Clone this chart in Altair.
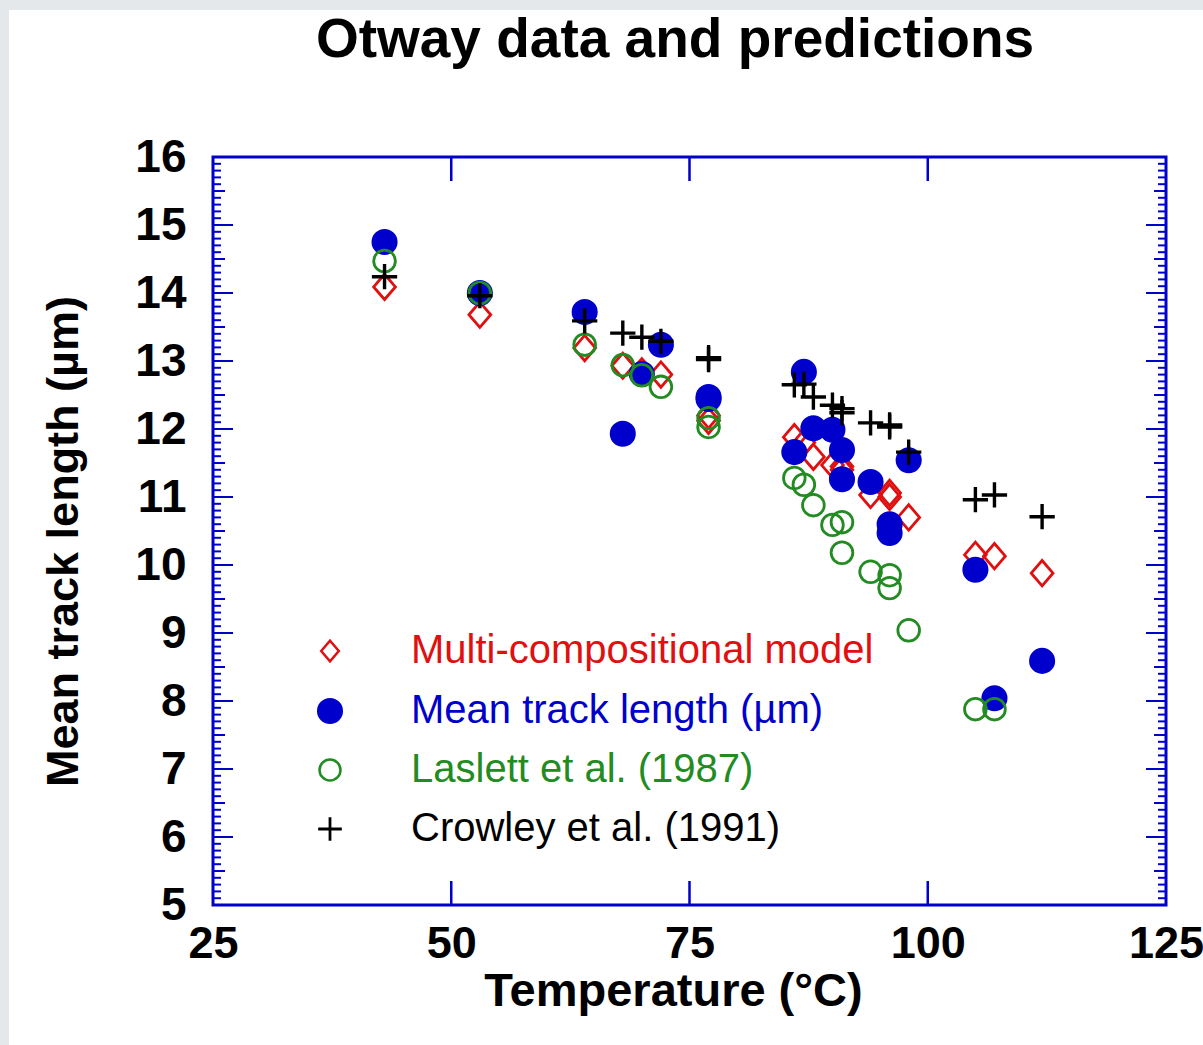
import altair as alt
import pandas as pd

# ---- data ----
temps = [43, 53, 64, 68, 70, 72, 77, 77, 86, 87, 88, 90, 91, 91, 94, 96, 96, 98, 105, 107, 112]
multi = [14.09, 13.68, 13.19, 12.93, 12.85, 12.80, 12.20, 12.12, 11.88, 11.80, 11.59, 11.47,
         11.45, 11.40, 11.03, 11.06, 11.00, 10.70, 10.15, 10.13, 9.88]
mean_len = [14.75, 14.00, 13.72, 11.93, 12.81, 13.24, 12.47, 12.44, 11.66, 12.84, 12.01, 11.99,
            11.69, 11.26, 11.22, 10.60, 10.47, 11.54, 9.93, 8.04, 8.59]
laslett = [14.47, 14.00, 13.24, 12.94, 12.79, 12.62, 12.16, 12.03, 11.28, 11.18, 10.88, 10.59,
           10.63, 10.18, 9.90, 9.85, 9.66, 9.04, 7.88, 7.88, None]
crowley = [14.24, 13.96, 13.59, 13.41, 13.35, 13.29, 13.05, 13.02, 12.65, 12.66, 12.47, 12.35,
           12.24, 12.30, 12.09, 12.06, 12.03, 11.66, 10.96, 11.03, 10.71]

series_names = ["Multi-compositional model", "Mean track length (µm)",
                "Laslett et al. (1987)", "Crowley et al. (1991)"]
title_text = "Otway data and predictions"

x_ticks = [50, 75, 100]
x_labels = [25, 50, 75, 100, 125]
y_major = list(range(5, 17))
y_half = [v + 0.5 for v in range(5, 16)]
y_minor = [v / 10 for v in range(50, 161) if v % 5 != 0]

# ---- styling ----
RED = "#e01010"
BLUE = "#0000cc"
GREEN = "#228b22"
BLACK = "#000000"
FONT = "Liberation Sans"
W, H = 953, 748
PAD = {"left": 213, "top": 157, "right": 37, "bottom": 140}

rows = []
for name, vals in zip(series_names, [multi, mean_len, laslett, crowley]):
    for t, v in zip(temps, vals):
        if v is not None:
            rows.append({"T": t, "L": v, "series": name})
df = pd.DataFrame(rows)

xscale = alt.Scale(domain=[25, 125], nice=False, zero=False)
yscale = alt.Scale(domain=[5, 16], nice=False, zero=False)
x_enc = alt.X("T:Q", scale=xscale, axis=alt.Axis(
    values=x_labels, format="d", ticks=False, domain=False, grid=False, zindex=1,
    labelFontSize=45, labelFontWeight="bold", labelPadding=16, labelColor="black",
    labelFlush=False,
    title="Temperature (°C)", titleFontSize=47, titleFontWeight="bold",
    titleX=460, titleY=100, titleBaseline="alphabetic", titleColor="black"))
y_enc = alt.Y("L:Q", scale=yscale, axis=alt.Axis(
    values=y_major, format="d", ticks=False, domain=False, grid=False, zindex=1,
    labelFontSize=46, labelFontWeight="bold", labelPadding=27, labelColor="black",
    labelFlush=False,
    title="Mean track length (µm)", titleFontSize=45, titleFontWeight="bold",
    titleX=-136, titleY=384, titleBaseline="alphabetic", titleAngle=-90,
    titleColor="black"))

one = pd.DataFrame({"k": [0]})

# page background: white sheet with a thin grey band at top and left
sheet = alt.Chart(one).mark_rect(fill="white").encode(
    x=alt.value(9 - PAD["left"]), x2=alt.value(W + PAD["right"]),
    y=alt.value(10 - PAD["top"]), y2=alt.value(H + PAD["bottom"]))

title = alt.Chart(pd.DataFrame({"t": [title_text]})).mark_text(
    fontSize=55, fontWeight="bold", font=FONT, color="black",
    align="center", baseline="alphabetic").encode(
    x=alt.value(462), y=alt.value(-100), text="t:N")

def series_layer(name, **mark):
    return alt.Chart(df).transform_filter(
        alt.datum.series == name).mark_point(opacity=1, **mark).encode(x=x_enc, y=y_enc)

CROSS = "M-1,0L1,0M0,-1L0,1"
DIAMOND = "M-0.86,0L0,-1L0.86,0L0,1Z"

red_l = series_layer(series_names[0], shape=DIAMOND, filled=False, stroke=RED,
                     strokeWidth=2.8, size=640)
blue_l = series_layer(series_names[1], shape="circle", filled=True, color=BLUE, size=680)
green_l = series_layer(series_names[2], shape="circle", filled=False, stroke=GREEN,
                       strokeWidth=2.8, size=470)
black_l = series_layer(series_names[3], shape=CROSS, filled=False, stroke=BLACK,
                       strokeWidth=3.4, size=640)

# ---- ticks drawn inward ----
def yticks(vals, length):
    d = pd.DataFrame({"L": vals})
    left = alt.Chart(d).mark_rule(color=BLUE, strokeWidth=2).encode(
        y=y_enc, x=alt.value(0), x2=alt.value(length))
    right = alt.Chart(d).mark_rule(color=BLUE, strokeWidth=2).encode(
        y=y_enc, x=alt.value(W - length), x2=alt.value(W))
    return [left, right]

dx = pd.DataFrame({"T": x_ticks})
xt_bottom = alt.Chart(dx).mark_rule(color=BLUE, strokeWidth=2.5).encode(
    x=x_enc, y=alt.value(H - 24), y2=alt.value(H))
xt_top = alt.Chart(dx).mark_rule(color=BLUE, strokeWidth=2.5).encode(
    x=x_enc, y=alt.value(0), y2=alt.value(24))

frame = alt.Chart(one).mark_rect(
    fill=None, fillOpacity=0, stroke=BLUE, strokeWidth=3).encode(
    x=alt.value(0), x2=alt.value(W), y=alt.value(0), y2=alt.value(H))

# ---- manual legend ----
legend_colors = [RED, BLUE, GREEN, BLACK]
legend_y = [494, 554, 613, 672]
legend_marks = [
    dict(shape=DIAMOND, filled=False, stroke=RED, strokeWidth=2.5, size=420),
    dict(shape="circle", filled=True, color=BLUE, size=680),
    dict(shape="circle", filled=False, stroke=GREEN, strokeWidth=2.5, size=440),
    dict(shape=CROSS, filled=False, stroke=BLACK, strokeWidth=2.8, size=560),
]
leg_layers = []
for name, col, yy, mk in zip(series_names, legend_colors, legend_y, legend_marks):
    d = pd.DataFrame({"label": [name]})
    leg_layers.append(alt.Chart(d).mark_point(opacity=1, **mk).encode(
        x=alt.value(117), y=alt.value(yy)))
    leg_layers.append(alt.Chart(d).mark_text(
        align="left", baseline="middle", fontSize=40, font=FONT, color=col).encode(
        x=alt.value(198), y=alt.value(yy), text="label:N"))

layers = ([sheet, title, red_l, blue_l, green_l, black_l]
          + yticks(y_major, 20) + yticks(y_half, 12) + yticks(y_minor, 8)
          + [xt_bottom, xt_top, frame] + leg_layers)

chart = alt.layer(*layers).properties(
    width=W, height=H,
    autosize=alt.AutoSizeParams(type="none"),
    padding=PAD,
).configure_view(stroke=None).configure_axis(
    labelFont=FONT, titleFont=FONT
).configure(background="#e4e8eb")

chart.save("out.html", embed_options={"renderer": "svg", "actions": False})
